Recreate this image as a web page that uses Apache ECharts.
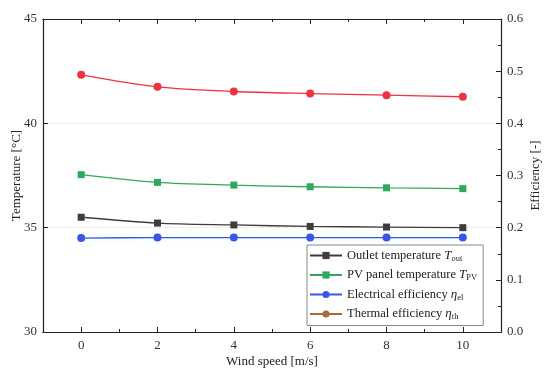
<!DOCTYPE html>
<html>
<head>
<meta charset="utf-8">
<script src="https://cdn.jsdelivr.net/npm/echarts@6/dist/echarts.min.js"></script>
<style>html,body{margin:0;padding:0;background:#fff;}#c{width:550px;height:373px;}</style>
</head>
<body>
<div id="c"></div>
<script>
var windSpeed = [0, 2, 4, 6, 8, 10];
var outletTemp = [35.50, 35.22, 35.13, 35.06, 35.03, 35.00];
var pvTemp = [37.54, 37.17, 37.04, 36.96, 36.91, 36.87];
var elecEff = [0.180, 0.181, 0.181, 0.181, 0.181, 0.181];
var thermEff = [0.493, 0.470, 0.461, 0.457, 0.454, 0.451];
var xMajorTicks = [0, 2, 4, 6, 8, 10];
var xMinorTicks = [-1, 1, 3, 5, 7, 9, 11];

function pairs(xs, ys) { return xs.map(function (x, i) { return [x, ys[i]]; }); }

var FONT = '"Liberation Serif", "Times New Roman", serif';
var chart = echarts.init(document.getElementById('c'));

function xAx(pos, vals, len, showLabel, name) {
  return {
    type: 'value', position: pos, min: -1, max: 11, gridIndex: 0,
    name: name || '', nameLocation: 'middle', nameGap: 23, nameMoveOverlap: false,
    nameTextStyle: { fontFamily: FONT, fontSize: 13, color: '#222' },
    axisLine: { show: true, onZero: false, lineStyle: { color: '#222', width: 1.2 } },
    axisTick: { show: true, inside: true, length: len, customValues: vals, lineStyle: { color: '#222' } },
    axisLabel: { show: showLabel, customValues: vals, margin: 7, fontFamily: FONT, fontSize: 13, color: '#333' },
    splitLine: { show: false }
  };
}

var option = {
  animation: false,
  backgroundColor: '#fff',
  grid: { left: 43, right: 49, top: 19, bottom: 41, containLabel: false, outerBoundsMode: 'none' },
  xAxis: [
    xAx('bottom', xMajorTicks, 5, true, 'Wind speed [m/s]'),
    xAx('bottom', xMinorTicks, 3, false),
    xAx('top', xMajorTicks, 5, false),
    xAx('top', xMinorTicks, 3, false)
  ],
  yAxis: [
    {
      type: 'value', position: 'left', min: 30, max: 45, interval: 5,
      name: 'Temperature [°C]', nameLocation: 'middle', nameGap: 20, nameRotate: 90, nameMoveOverlap: false,
      nameTextStyle: { fontFamily: FONT, fontSize: 13, color: '#222' },
      axisLine: { show: true, onZero: false, lineStyle: { color: '#222', width: 1.2 } },
      axisTick: { show: true, inside: true, length: 5, lineStyle: { color: '#222' } },
      axisLabel: { margin: 6, fontFamily: FONT, fontSize: 13, color: '#333' },
      splitLine: { show: true, lineStyle: { color: '#ddd', type: 'dotted', width: 1 } }
    },
    {
      type: 'value', position: 'right', min: 0, max: 0.6, interval: 0.1,
      name: 'Efficiency [-]', nameLocation: 'middle', nameGap: 28, nameRotate: 90, nameMoveOverlap: false,
      nameTextStyle: { fontFamily: FONT, fontSize: 13, color: '#222' },
      axisLine: { show: true, onZero: false, lineStyle: { color: '#222', width: 1.2 } },
      axisTick: { show: true, inside: true, length: 5, lineStyle: { color: '#222' } },
      minorTick: { show: true, splitNumber: 2, length: 3, lineStyle: { color: '#222' } },
      axisLabel: { margin: 6, fontFamily: FONT, fontSize: 13, color: '#333', formatter: function (v) { return v.toFixed(1); } },
      splitLine: { show: false }
    }
  ],
  legend: {
    orient: 'vertical', left: 307, top: 245,
    backgroundColor: '#fff', borderColor: '#888', borderWidth: 1,
    padding: [4, 6, 4, 2], itemGap: 5.5, itemWidth: 32, itemHeight: 9,
    textStyle: {
      fontFamily: FONT, fontSize: 12.5, color: '#222',
      rich: {
        i: { fontFamily: FONT, fontStyle: 'italic', fontSize: 13, color: '#222' },
        s: { fontFamily: FONT, fontSize: 8.5, color: '#222', padding: [6, 0, 0, 0] }
      }
    },
    data: [
      { name: 'Outlet temperature' },
      { name: 'PV panel temperature' },
      { name: 'Electrical efficiency' },
      { name: 'Thermal efficiency', itemStyle: { color: '#a86a3c' }, lineStyle: { color: '#a86a3c' } }
    ],
    formatter: function (n) {
      if (n === 'Outlet temperature') return n + ' {i|T}{s|out}';
      if (n === 'PV panel temperature') return n + ' {i|T}{s|PV}';
      if (n === 'Electrical efficiency') return n + ' {i|η}{s|el}';
      return n + ' {i|η}{s|th}';
    }
  },
  series: [
    {
      name: 'Outlet temperature', type: 'line', xAxisIndex: 0, yAxisIndex: 0, smooth: 0.3,
      data: pairs(windSpeed, outletTemp), symbol: 'rect', symbolSize: 7,
      itemStyle: { color: '#3d3d3d' }, lineStyle: { color: '#3d3d3d', width: 1.3 }
    },
    {
      name: 'PV panel temperature', type: 'line', xAxisIndex: 0, yAxisIndex: 0, smooth: 0.3,
      data: pairs(windSpeed, pvTemp), symbol: 'rect', symbolSize: 7,
      itemStyle: { color: '#2ea85c' }, lineStyle: { color: '#2ea85c', width: 1.3 }
    },
    {
      name: 'Electrical efficiency', type: 'line', xAxisIndex: 0, yAxisIndex: 1, smooth: 0.3,
      data: pairs(windSpeed, elecEff), symbol: 'circle', symbolSize: 8,
      itemStyle: { color: '#3b55e6' },
      lineStyle: { color: '#3b55e6', width: 1.3, shadowColor: 'rgba(120,230,255,0.35)', shadowBlur: 6 }
    },
    {
      name: 'Thermal efficiency', type: 'line', xAxisIndex: 0, yAxisIndex: 1, smooth: 0.3,
      data: pairs(windSpeed, thermEff), symbol: 'circle', symbolSize: 8,
      itemStyle: { color: '#ee3340' }, lineStyle: { color: '#ee3340', width: 1.3 }
    }
  ]
};
chart.setOption(option);
</script>
</body>
</html>
